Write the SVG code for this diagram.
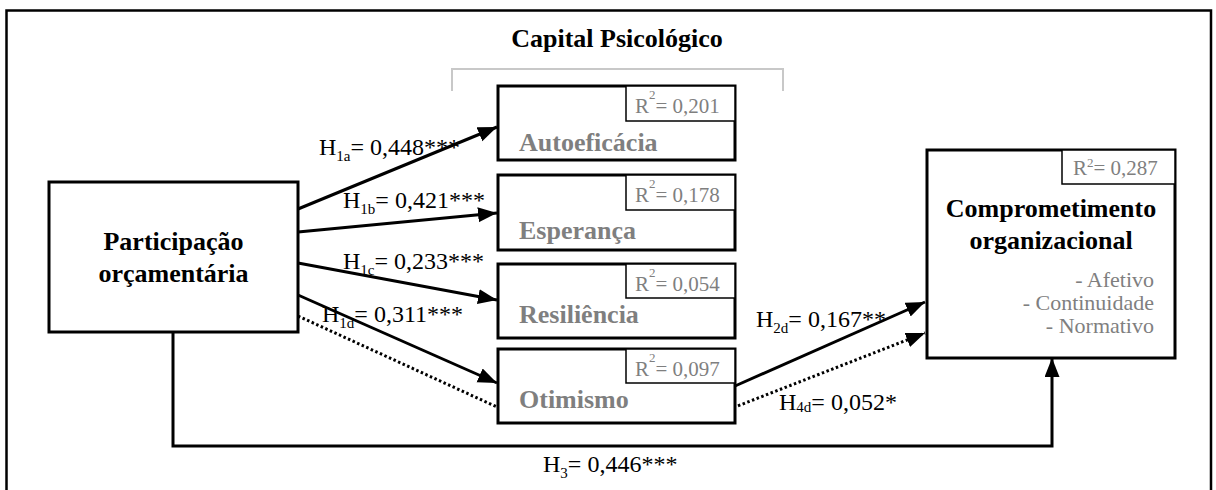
<svg xmlns="http://www.w3.org/2000/svg" width="1216" height="490" viewBox="0 0 1216 490">
<defs>
<marker id="ah" markerUnits="userSpaceOnUse" markerWidth="20" markerHeight="16" refX="19" refY="7.5" orient="auto">
<path d="M0,0 L19,7.5 L0,15 Z" fill="#000"/>
</marker>
<style>
.box{fill:#fff;stroke:#000;stroke-width:3}
.rbox{fill:#fff;stroke:#000;stroke-width:1.5}
text{font-family:'Liberation Serif','Tinos','DejaVu Serif',serif}
.big{font-size:26px;font-weight:bold}
.gray{fill:#7f7f7f}
.r2{font-size:21px;fill:#7f7f7f}
.lbl{font-size:24px;fill:#000}
.sub{font-size:15px}
.ln{fill:none;stroke:#000;stroke-width:3}
.dot{fill:none;stroke:#000;stroke-width:3;stroke-dasharray:2.5 2.5}
</style>
</defs>
<rect x="0" y="0" width="1216" height="490" fill="#fff"/>
<path d="M6.5,495 V10.5 H1211 V495" fill="none" stroke="#000" stroke-width="2.5"/>
<text class="big" x="617" y="47" text-anchor="middle" font-family="Liberation Serif">Capital Psicológico</text>
<path d="M452,91 V69 H783 V91" fill="none" stroke="#c8c8c8" stroke-width="2"/>

<g id="connectors">
<line class="ln" x1="298" y1="209" x2="497" y2="127" marker-end="url(#ah)"/>
<line class="ln" x1="298" y1="232" x2="497" y2="213" marker-end="url(#ah)"/>
<line class="ln" x1="298" y1="263" x2="497" y2="300" marker-end="url(#ah)"/>
<line class="ln" x1="298" y1="295" x2="497" y2="383" marker-end="url(#ah)"/>
<polyline class="dot" points="298,316 497,407 735,407 925,333" marker-end="url(#ah)"/>
<line class="ln" x1="735" y1="386" x2="925" y2="302" marker-end="url(#ah)"/>
<polyline class="ln" points="173,332 173,446 1052,446 1052,358" marker-end="url(#ah)"/>
<text class="lbl" x="319" y="155">H<tspan class="sub" dy="6">1a</tspan><tspan dy="-6">= 0,448***</tspan></text>
<text class="lbl" x="343" y="208">H<tspan class="sub" dy="6">1b</tspan><tspan dy="-6">= 0,421***</tspan></text>
<text class="lbl" x="343" y="269">H<tspan class="sub" dy="6">1c</tspan><tspan dy="-6">= 0,233***</tspan></text>
<text class="lbl" x="322" y="322">H<tspan class="sub" dy="6">1d</tspan><tspan dy="-6">= 0,311***</tspan></text>
<text class="lbl" x="756" y="327">H<tspan class="sub" dy="6">2d</tspan><tspan dy="-6">= 0,167**</tspan></text>
<text class="lbl" x="779" y="410">H<tspan class="sub" dy="2">4d</tspan><tspan dy="-2">= 0,052*</tspan></text>
<text class="lbl" x="543" y="472">H<tspan class="sub" dy="6">3</tspan><tspan dy="-6">= 0,446***</tspan></text>
</g>

<g id="participacao">
<rect class="box" x="49" y="182" width="249" height="150"/>
<text class="big" x="173.5" y="250" text-anchor="middle">Participação</text>
<text class="big" x="173.5" y="282" text-anchor="middle">orçamentária</text>
</g>

<g id="autoeficacia">
<rect class="box" x="498" y="86" width="237" height="74"/>
<rect class="rbox" x="626" y="86" width="109" height="35"/>
<text class="r2" x="635" y="113">R<tspan font-size="13" dy="-14">2</tspan><tspan dy="14">= 0,201</tspan></text>
<text class="big gray" x="519" y="151">Autoeficácia</text>
</g>

<g id="esperanca">
<rect class="box" x="498" y="175" width="237" height="75"/>
<rect class="rbox" x="626" y="175" width="109" height="35"/>
<text class="r2" x="635" y="202">R<tspan font-size="13" dy="-14">2</tspan><tspan dy="14">= 0,178</tspan></text>
<text class="big gray" x="519" y="239">Esperança</text>
</g>

<g id="resiliencia">
<rect class="box" x="498" y="264" width="237" height="74"/>
<rect class="rbox" x="626" y="264" width="109" height="34"/>
<text class="r2" x="635" y="291">R<tspan font-size="13" dy="-14">2</tspan><tspan dy="14">= 0,054</tspan></text>
<text class="big gray" x="519" y="323">Resiliência</text>
</g>

<g id="otimismo">
<rect class="box" x="498" y="349" width="237" height="74"/>
<rect class="rbox" x="626" y="349" width="109" height="34"/>
<text class="r2" x="635" y="376">R<tspan font-size="13" dy="-14">2</tspan><tspan dy="14">= 0,097</tspan></text>
<text class="big gray" x="519" y="408">Otimismo</text>
</g>

<g id="comprometimento">
<rect class="box" x="927" y="150" width="248" height="208"/>
<rect class="rbox" x="1062" y="150" width="113" height="34"/>
<text class="r2" x="1073" y="175">R<tspan font-size="13" dy="-8">2</tspan><tspan dy="8">= 0,287</tspan></text>
<text class="big" x="1051" y="217" text-anchor="middle">Comprometimento</text>
<text class="big" x="1051" y="249" text-anchor="middle">organizacional</text>
<text class="gray" font-size="22" x="1154" y="287" text-anchor="end">- Afetivo</text>
<text class="gray" font-size="22" x="1154" y="310" text-anchor="end">- Continuidade</text>
<text class="gray" font-size="22" x="1154" y="333" text-anchor="end">- Normativo</text>
</g>
</svg>
